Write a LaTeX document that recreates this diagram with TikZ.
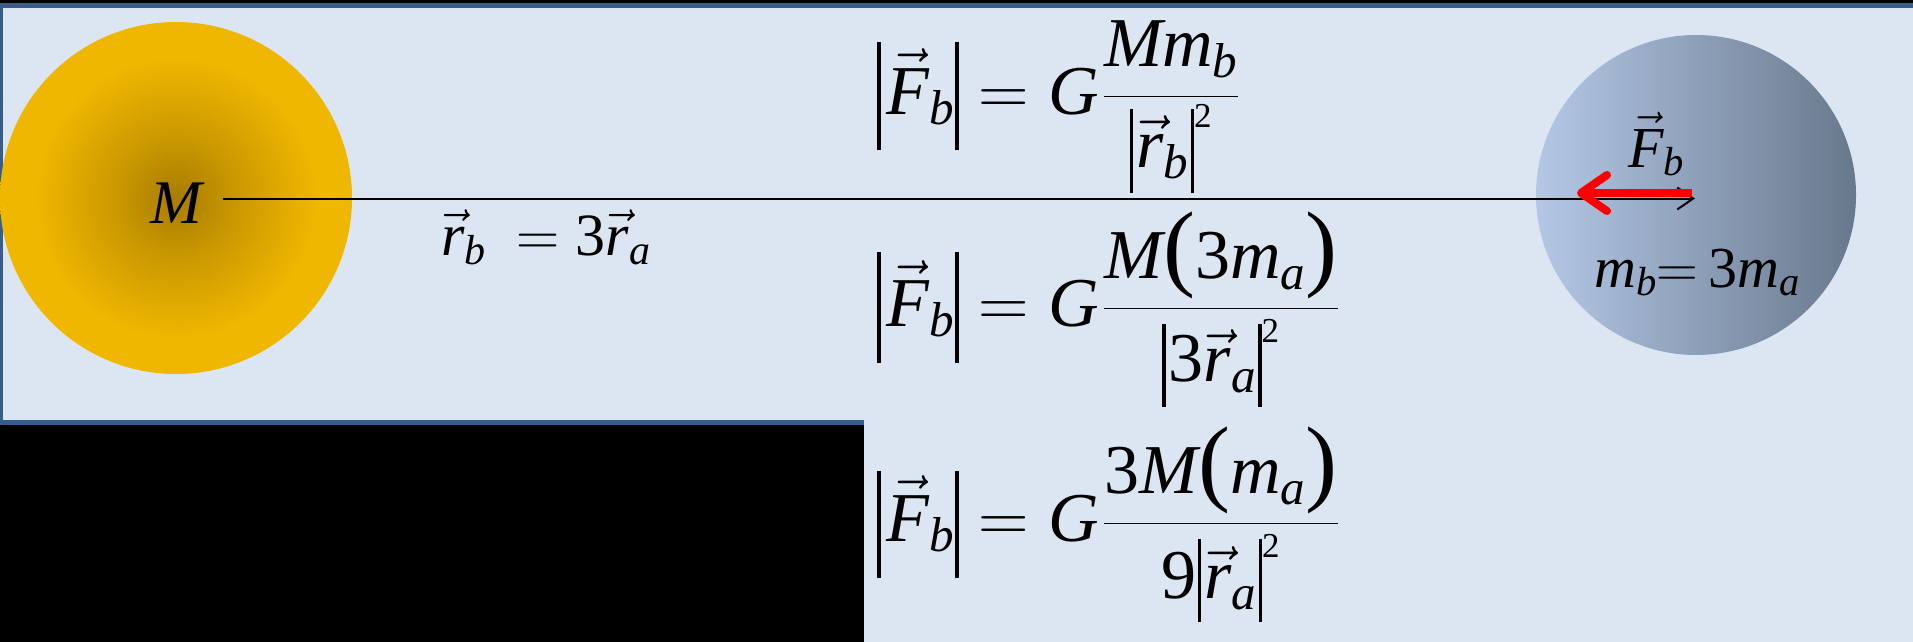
\RequirePackage{fix-cm}
\documentclass[tikz,border=0pt]{standalone}
\usepackage{fontspec}
\setmainfont{Liberation Serif}
\usetikzlibrary{arrows.meta}
\definecolor{boxfill}{RGB}{220,230,242}
\definecolor{boxline}{RGB}{56,93,138}
\definecolor{sungold}{RGB}{240,183,0}
\definecolor{sundark}{RGB}{168,124,0}
\definecolor{planetL}{RGB}{180,200,230}
\definecolor{planetR}{RGB}{104,120,140}
\colorlet{sunmid}{sundark!55!sungold}
\pgfdeclareradialshading{sunshade}{\pgfpointorigin}{color(0bp)=(sundark); color(8bp)=(sunmid); color(20bp)=(sungold); color(50bp)=(sungold)}
\newcommand\mi[1]{\mathit{#1}}
\newcommand\mr[1]{\mathrm{#1}}
\newcommand\vF{\vec{\mi{F}}}
\newcommand\vr{\vec{\mi{r}}}
\newcommand\vbar[2]{\vrule width 3.5pt height #1 depth #2\relax}
\newcommand\strutof[1]{\vrule height #1 depth 0pt width 0pt\relax}
\newcommand\sq{{\scriptscriptstyle\mr 2}}
\newcommand\bigpar[1]{\mbox{\fontsize{96}{96}\selectfont#1}}
\begin{document}
\begin{tikzpicture}[x=1pt,y=-1pt,
  eq/.style={anchor=base west, inner sep=0pt, font=\fontsize{70}{80}\selectfont},
  lbl/.style={inner sep=0pt}]
\useasboundingbox (0,0) rectangle (1913,642);
\fill[black] (0,0) rectangle (1913,642);
\draw[boxline, line width=5pt, fill=boxfill] (0.5,5.5) rectangle (1925,422);
\fill[boxfill] (864,419.5) rectangle (1913,642);
% bodies
\shade[shading=sunshade] (176,198) circle (176pt);
\shade[left color=planetL, right color=planetR] (1696,195) circle (160pt);
% labels
\node[lbl, anchor=base, font=\fontsize{62}{70}\selectfont] (M) at (178,223) {\textit{M}};
\node[lbl, anchor=base west, font=\fontsize{60}{70}\selectfont] (rlab) at (441,255) {$\vr_{\mi b}$\hspace{30pt}$=\mr{3}\vr_{\mi a}$};
\node[lbl, anchor=base west, font=\fontsize{58}{66}\selectfont] (Flab) at (1628,167) {$\vF_{\mi b}$};
\node[lbl, anchor=base west, font=\fontsize{58}{68}\selectfont] (mlab) at (1594,287) {$\mi m_{\mi b}{=}\,\mr{3}\mi m_{\mi a}$};
% radius vector
\coordinate (rstart) at (223,198.5);
\coordinate (rend) at (1695,198.5);
\draw[line width=2pt, -{Straight Barb[length=16pt,width=22pt]}] (rstart) -- (rend);
% force
\coordinate (ftail) at (1692,193);
\coordinate (fhead) at (1577,193);
\draw[red, line width=8pt, -{Straight Barb[length=26pt,width=36pt,round]}] (ftail) -- (fhead);
% equations
\node[eq] (e1) at (877,114) {$\displaystyle
  \vbar{72pt}{36pt}\kern6pt\vF_{\mi b}\kern1pt\vbar{72pt}{36pt} = \mi G\kern4pt
  \frac{\mi M\mi m_{\mi b}}{\strutof{70pt}{\vbar{59pt}{25pt}\kern3pt\vr_{\mi b}\kern2pt\vbar{59pt}{25pt}}^{\sq}}$};
\node[eq] (e2) at (877,326) {$\displaystyle
  \vbar{74pt}{37pt}\kern6pt\vF_{\mi b}\kern1pt\vbar{74pt}{37pt} = \mi G\kern4pt
  \frac{\smash{\mi M\kern1pt\bigpar{(}\mr 3\mi m_{\mi a}\bigpar{)}}\strutof{64pt}}
       {\strutof{72pt}{\vbar{58pt}{25pt}\kern3pt\mr 3\vr_{\mi a}\kern2pt\vbar{58pt}{25pt}}^{\sq}}$};
\node[eq] (e3) at (877,541) {$\displaystyle
  \vbar{70pt}{37pt}\kern6pt\vF_{\mi b}\kern1pt\vbar{70pt}{37pt} = \mi G\kern4pt
  \frac{\smash{\mr 3\mi M\kern1pt\bigpar{(}\mi m_{\mi a}\bigpar{)}}\strutof{64pt}}
       {\strutof{74pt}\mr 9\kern1pt{\vbar{60pt}{23pt}\kern3pt\vr_{\mi a}\kern2pt\vbar{60pt}{23pt}}^{\sq}}$};
\end{tikzpicture}
\end{document}
